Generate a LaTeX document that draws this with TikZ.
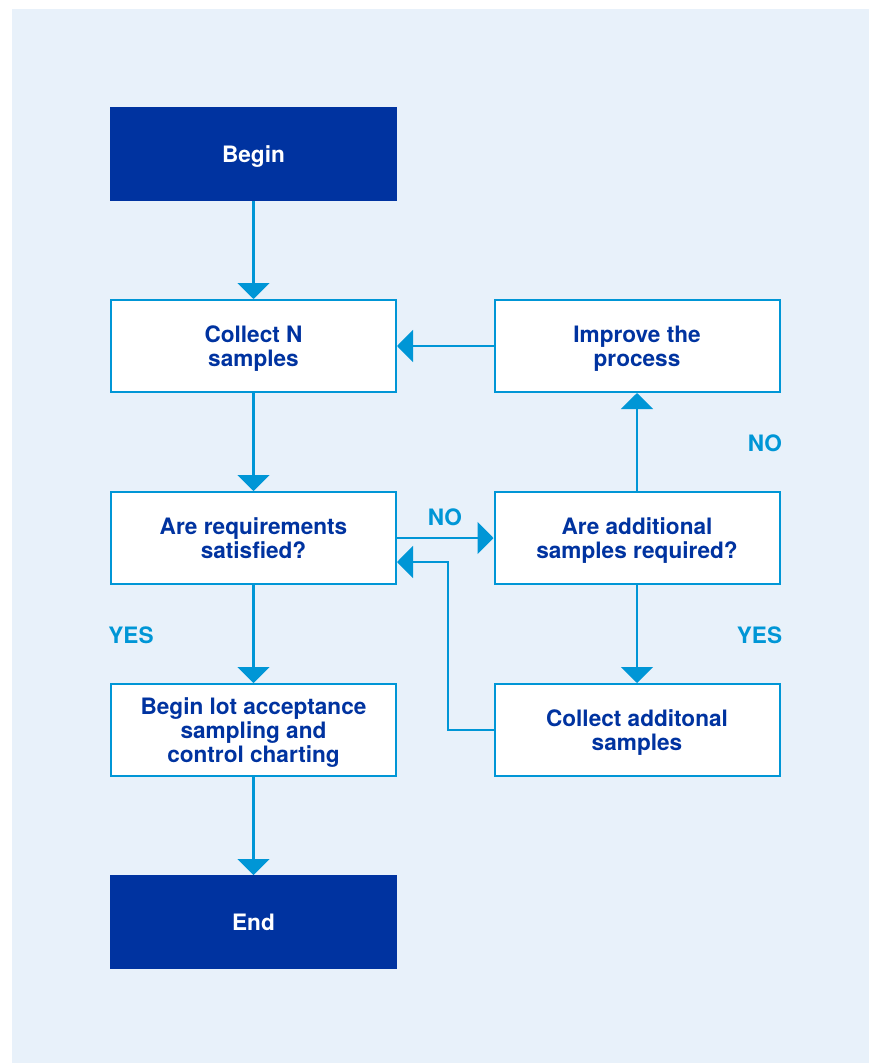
\documentclass[tikz,border=0pt]{standalone}
\usepackage{fontspec}
\setmainfont{TeX Gyre Heros}
\usetikzlibrary{positioning,arrows.meta}
\definecolor{darkblue}{HTML}{0033A0}
\definecolor{lineblue}{HTML}{0096D6}
\definecolor{paleblue}{HTML}{E8F1FA}

\begin{document}
\begin{tikzpicture}[x=1pt,y=-1pt,->,>={Triangle[width=32pt,length=16pt]},line width=2.2pt,node distance=192pt,
    box/.style={rectangle,draw=lineblue,line width=2pt,fill=white,text=darkblue,minimum width=285pt,minimum height=92pt,align=center,text depth=0pt,font=\fontsize{22.6pt}{24pt}\selectfont\bfseries},
    term/.style={box,fill=darkblue,draw=darkblue,text=white},
    answer/.style={text=lineblue,font=\fontsize{22.6pt}{24pt}\selectfont\bfseries}]

            \useasboundingbox (0,0) rectangle (869,1063);
            \fill[paleblue] (12,9) rectangle (869,1063);

            \node[term] (begin) at (253.5,154) {Begin};
            \node[box] (collect) [below of = begin]{Collect N\\samples};
            \node[box] (req) [below of = collect]{Are requirements\\satisfied?};
            \node[box] (lot) [below of = req]{Begin lot acceptance\\sampling and\\control charting};
            \node[term] (end) [below of = lot]{End};
            \node[box] (improve) [right of = collect, node distance=383.5pt]{Improve the\\process};
            \node[box] (addl) [below of = improve]{Are additional\\samples required?};
            \node[box] (colladd) [below of = addl]{Collect additonal\\samples};

            \node[answer] (no1) at (445,517) {NO};
            \node[answer] (no2) at (765,443) {NO};
            \node[answer] (yes1) at (131,635.5) {YES};
            \node[answer] (yes2) at (759.5,635.5) {YES};

            \coordinate (bend) at (448,730);

            \draw[->, lineblue] (begin) to (collect);
            \draw[->, lineblue] (collect) to (req);
            \draw[->, lineblue] (req) to (lot);
            \draw[->, lineblue] (lot) to (end);
            \draw[->, lineblue] (improve) to (collect);
            \draw[->, lineblue] (req) to (addl);
            \draw[->, lineblue] (addl) to (improve);
            \draw[->, lineblue] (addl) to (colladd);
            \draw[->, lineblue] (colladd.west) -- (bend) |- ([yshift=-24pt]req.east);

            ;
        \end{tikzpicture}
\end{document}
